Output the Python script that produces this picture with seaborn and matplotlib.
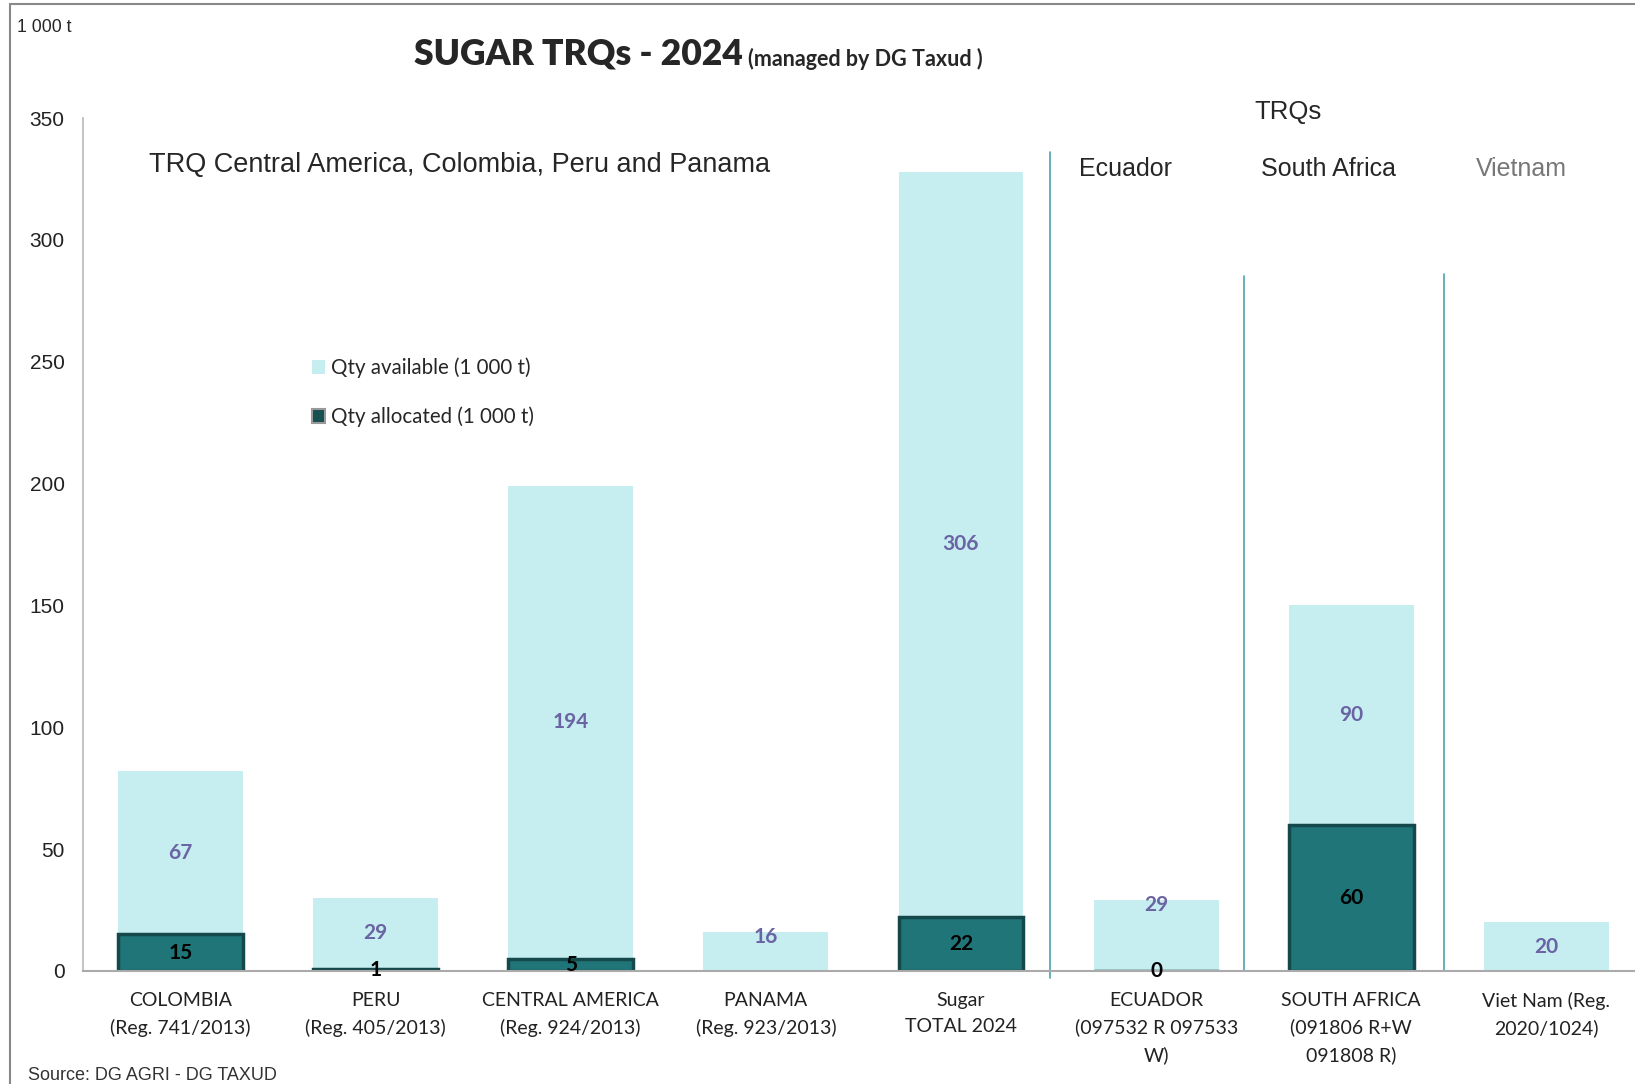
import numpy as np
import pandas as pd
import matplotlib
matplotlib.use("Agg")
import matplotlib.pyplot as plt
from matplotlib.patches import Patch
from matplotlib.lines import Line2D
import seaborn as sns

# data (1 000 t)
categories = ["COLOMBIA\n(Reg. 741/2013)", "PERU\n(Reg. 405/2013)",
              "CENTRAL AMERICA\n(Reg. 924/2013)", "PANAMA\n(Reg. 923/2013)",
              "Sugar\nTOTAL 2024", "ECUADOR\n(097532 R 097533\nW)",
              "SOUTH AFRICA\n(091806 R+W\n091808 R)", "Viet Nam (Reg.\n2020/1024)"]
qty_allocated = [15, 1, 5, np.nan, 22, 0, 60, np.nan]
qty_available = [67, 29, 194, 16, 306, 29, 90, 20]
y_ticks = [0, 50, 100, 150, 200, 250, 300, 350]

LIGHT = "#C6EEF0"
DARK = "#1F7578"
LABEL_PURPLE = "#6A64A4"
CALIBRI = ["Lato", "DejaVu Sans"]
ARIAL = ["Liberation Sans", "DejaVu Sans"]

df = pd.DataFrame({"cat": categories,
                   "allocated": qty_allocated,
                   "available": qty_available})
df["total"] = df["allocated"].fillna(0) + df["available"]

sns.set_theme(style="white")
plt.rcParams["font.family"] = ARIAL

W, H = 1635, 1084
fig = plt.figure(figsize=(W / 100, H / 100), dpi=100)
ax = fig.add_axes([82.8 / W, 1 - 971 / H, (1644 - 82.8) / W, (971 - 118) / H])

sns.barplot(data=df, x="cat", y="total", color=LIGHT, width=0.64,
            saturation=1, ax=ax, linewidth=0)
sns.barplot(data=df, x="cat", y="allocated", color=DARK, width=0.64,
            saturation=1, ax=ax, edgecolor="#15484A", linewidth=2.5)

ax.set_xlim(-0.5, 7.5)
ax.set_ylim(0, 350)
ax.set_yticks(y_ticks)
ax.set_xlabel("")
ax.set_ylabel("")
ax.tick_params(axis="y", length=0, pad=13, labelsize=15, labelcolor="#222222")
ax.tick_params(axis="x", length=0, pad=15)
ax.set_xticks(range(len(categories)))
ax.set_xticklabels(categories, fontsize=14, family=CALIBRI,
                   color="#222222", linespacing=1.65)
for sp in ["top", "right"]:
    ax.spines[sp].set_visible(False)
ax.spines["left"].set_color("#BBBBBB")
ax.spines["bottom"].set_color("#AAAAAA")
ax.spines["bottom"].set_linewidth(1.5)

# value labels
for i, row in df.iterrows():
    alloc = row["allocated"]
    base = 0 if np.isnan(alloc) else alloc
    if row["cat"].startswith(("PANAMA", "ECUADOR")):
        y_av = row["total"] - 2
    else:
        y_av = base + row["available"] / 2
    ax.text(i, y_av, f"{row['available']:.0f}", ha="center", va="center",
            fontsize=15, fontweight="bold", color=LABEL_PURPLE, family=CALIBRI)
    if not np.isnan(alloc):
        ax.text(i, alloc / 2, f"{alloc:.0f}", ha="center", va="center",
                fontsize=15, fontweight="bold", color="black", family=CALIBRI)

# separators between TRQ groups
sep_col = "#4AA3AE"
ax.plot([4.455, 4.455], [-3, 336], color=sep_col, lw=1.2, clip_on=False)
ax.plot([5.449, 5.449], [0, 285], color=sep_col, lw=1.2, clip_on=False)
ax.plot([6.474, 6.474], [0, 286], color=sep_col, lw=1.2, clip_on=False)


def fx(px):
    return px / W


def fy(py):
    return 1 - py / H


# titles and group headers
title = fig.text(fx(414), fy(54), "SUGAR TRQs - 2024", fontsize=25.5,
                 fontweight="heavy", family=CALIBRI, va="center", ha="left")
ax.annotate("(managed by DG Taxud )", xy=(1, 0), xycoords=title,
            xytext=(4, 0), textcoords="offset points", fontsize=15.5,
            fontweight="bold", family=CALIBRI, va="bottom", ha="left")
fig.text(fx(16.7), fy(27), "1 000 t", fontsize=12.7, va="center", ha="left")
fig.text(fx(149), fy(165), "TRQ Central America, Colombia, Peru and Panama",
         fontsize=19.5, va="center", ha="left")
fig.text(fx(1288), fy(112), "TRQs", fontsize=18.5, va="center", ha="center")
fig.text(fx(1125), fy(169), "Ecuador", fontsize=18, va="center", ha="center")
fig.text(fx(1328), fy(169), "South Africa", fontsize=18, va="center",
         ha="center")
fig.text(fx(1521), fy(169), "Vietnam", fontsize=18, va="center", ha="center",
         color="#777777")
fig.text(fx(28), fy(1075), "Source: DG AGRI - DG TAXUD", fontsize=13,
         va="center", ha="left", color="#333333")

# legend
handles = [Patch(facecolor=LIGHT, edgecolor="none"),
           Patch(facecolor="#174E50", edgecolor="#999999", linewidth=1.5)]
fig.legend(handles, ["Qty available (1 000 t)", "Qty allocated (1 000 t)"],
           loc="upper left", bbox_to_anchor=(fx(293), fy(339)),
           frameon=False, handlelength=0.65, handleheight=0.65,
           handletextpad=0.3, labelspacing=1.4,
           prop={"family": CALIBRI, "size": 14.8})

# slide frame
fig.add_artist(Line2D([fx(10), 1], [fy(4), fy(4)], color="#888888", lw=1.5))
fig.add_artist(Line2D([fx(10), fx(10)], [fy(4), 0], color="#888888", lw=1.5))

fig.savefig("out.png", dpi=100)
